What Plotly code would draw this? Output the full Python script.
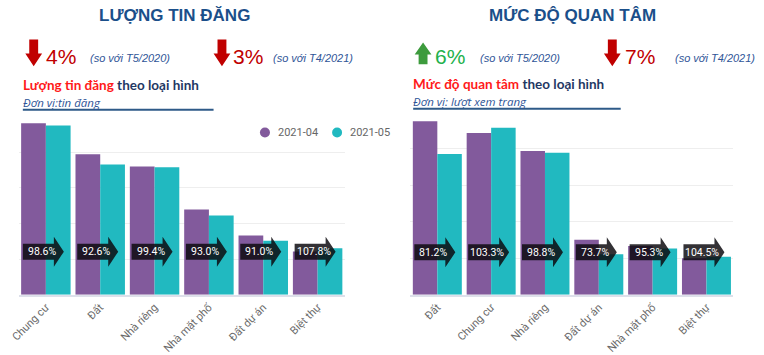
import plotly.graph_objects as go

# ---------------- data ----------------
series_names = ["2021-04", "2021-05"]

cats_listings = ["Chung cư", "Đất", "Nhà riêng", "Nhà mặt phố", "Đất dự án", "Biệt thự"]
listings_apr = [96300, 78900, 72000, 47800, 33300, 24200]
listings_may = [95000, 73100, 71600, 44500, 30300, 26100]
listings_pct = ["98.6%", "92.6%", "99.4%", "93.0%", "91.0%", "107.8%"]

cats_views = ["Đất", "Chung cư", "Nhà riêng", "Đất dự án", "Nhà mặt phố", "Biệt thự"]
views_apr = [4742000, 4420000, 3930000, 1499000, 1328000, 995000]
views_may = [3850000, 4566000, 3883000, 1105000, 1266000, 1040000]
views_pct = ["81.2%", "103.3%", "98.8%", "73.7%", "95.3%", "104.5%"]

# ---------------- style ----------------
W, H = 764, 355
PURPLE = "#825a9c"
TEAL = "#21b9c0"
RED = "#c00000"
GREEN = "#22b14c"
NAVY = "#1f3864"
TITLE_BLUE = "#1b4f8a"
NOTE_BLUE = "#2f5597"
ARROW_FILL = "rgba(12,10,14,0.84)"
COLORS = [PURPLE, TEAL]


def px(x):
    return x / W


def py(y):
    return 1 - y / H


fig = go.Figure()

panels = [
    ("x", "y", cats_listings, listings_apr, listings_may, listings_pct, 24170),
    ("x2", "y2", cats_views, views_apr, views_may, views_pct, 1157000),
]

for xa, ya, cats, apr, may, pct, label_y in panels:
    idx = list(range(len(cats)))
    for name, vals, col in zip(series_names, [apr, may], COLORS):
        fig.add_trace(go.Bar(x=idx, y=vals, name=name, marker_color=col,
                             marker_line_width=0, xaxis=xa, yaxis=ya, showlegend=False,
                             hovertext=cats, hoverinfo="text+y+name"))
    for i, t in zip(idx, pct):
        fig.add_shape(type="path", xref=xa, yref=ya,
                      xsizemode="pixel", ysizemode="pixel",
                      xanchor=i, yanchor=label_y,
                      path="M -23,-8 L 8,-8 L 8,-15 L 18,0 L 8,15 L 8,8 L -23,8 Z",
                      fillcolor=ARROW_FILL, line_width=0, layer="above")
        fig.add_annotation(x=i, y=label_y, xref=xa, yref=ya, text=t, showarrow=False,
                           xshift=-4, font=dict(family="Roboto", size=10.5, color="white"))

axis_common = dict(showgrid=False, zeroline=False, showline=True, linecolor="#dde0ea",
                   linewidth=2, tickangle=-45, ticks="",
                   tickfont=dict(family="Roboto", size=11, color="#6a6a6a"),
                   range=[-0.5, 5.5], fixedrange=True)
yaxis_common = dict(showticklabels=False, gridcolor="#eeeeee", gridwidth=1,
                    zeroline=False, showline=False, ticks="",
                    domain=[57 / H, 235 / H], fixedrange=True)

fig.update_layout(
    width=W, height=H, autosize=False,
    margin=dict(l=0, r=0, t=0, b=0),
    paper_bgcolor="white", plot_bgcolor="white",
    font=dict(family="Roboto", color="#555555"),
    barmode="group", bargap=0.09, bargroupgap=0,
    xaxis=dict(axis_common, domain=[px(9.8), px(339.8)], anchor="y",
               tickvals=list(range(6)), ticktext=cats_listings),
    yaxis=dict(yaxis_common, range=[0, 98900], dtick=20000, anchor="x"),
    xaxis2=dict(axis_common, domain=[px(406.2), px(733)], anchor="y2",
                tickvals=list(range(6)), ticktext=cats_views),
    yaxis2=dict(yaxis_common, range=[0, 4816000], dtick=1000000, anchor="x2"),
    showlegend=False,
)

# ---------------- legend (circle markers + labels) ----------------
for name, col, cx in zip(series_names, COLORS, [259, 332]):
    fig.add_shape(type="circle", xref="paper", yref="paper",
                  xsizemode="pixel", ysizemode="pixel", xanchor=px(cx), yanchor=py(134),
                  x0=-5, x1=5, y0=-5, y1=5, fillcolor=col, line_width=0)
    fig.add_annotation(x=px(cx + 11), y=py(134), xref="paper", yref="paper", text=name,
                       showarrow=False, xanchor="left", yanchor="middle",
                       font=dict(family="Roboto", size=11, color="#666666"))


# ---------------- header texts ----------------
def ann(x, y, text, size, color, family="Liberation Sans", xanchor="left"):
    fig.add_annotation(x=px(x), y=py(y), xref="paper", yref="paper", text=text,
                       showarrow=False, xanchor=xanchor, yanchor="middle", borderpad=0,
                       font=dict(family=family, size=size, color=color))


ann(167, 16, "<b>LƯỢNG TIN ĐĂNG</b>", 17, TITLE_BLUE, xanchor="center")
ann(570, 16, "<b>MỨC ĐỘ QUAN TÂM</b>", 17, TITLE_BLUE, xanchor="center")

ann(36, 57, "4%", 21, RED)
ann(81, 59, "<i>(so với T5/2020)</i>", 11, NOTE_BLUE)
ann(226, 57, "3%", 21, RED)
ann(266, 59, "<i>(so với T4/2021)</i>", 11, NOTE_BLUE)

ann(430, 57, "6%", 21, GREEN)
ann(476, 59, "<i>(so với T5/2020)</i>", 11, NOTE_BLUE)
ann(622, 57, "7%", 21, RED)
ann(673, 59, "<i>(so với T4/2021)</i>", 11, NOTE_BLUE)

ann(13, 86, "<b><span style='color:#ff1a1a'>Lượng tin đăng</span> theo loại hình</b>",
    13.5, NAVY, family="Lato")
ann(13, 103.5, "<i>Đơn vị:tin đăng</i>", 11.5, NOTE_BLUE, family="Open Sans")
ann(408, 85, "<b><span style='color:#ff1a1a'>Mức độ quan tâm</span> theo loại hình</b>",
    13.5, NAVY, family="Lato")
ann(408, 102.5, "<i>Đơn vị: lượt xem trang</i>", 11.5, NOTE_BLUE, family="Open Sans")

# underlines
fig.add_shape(type="line", xref="paper", yref="paper", x0=px(14), x1=px(207),
              y0=py(111), y1=py(111), line=dict(color="#2e5a88", width=2))
fig.add_shape(type="line", xref="paper", yref="paper", x0=px(409), x1=px(619),
              y0=py(110), y1=py(110), line=dict(color="#2e5a88", width=2))


# arrow icons
def down_arrow(x0, y0, color):
    pts = [(x0 + 4, y0), (x0 + 13, y0), (x0 + 13, y0 + 14), (x0 + 17, y0 + 14),
           (x0 + 8.5, y0 + 27), (x0, y0 + 14), (x0 + 4, y0 + 14)]
    path = "M " + " L ".join(f"{px(a):.5f},{py(b):.5f}" for a, b in pts) + " Z"
    fig.add_shape(type="path", xref="paper", yref="paper", path=path,
                  fillcolor=color, line_width=0)


def up_arrow(x0, y0, color):
    pts = [(x0 + 8.5, y0), (x0 + 17, y0 + 12), (x0 + 13, y0 + 12), (x0 + 13, y0 + 22),
           (x0 + 4, y0 + 22), (x0 + 4, y0 + 12), (x0, y0 + 12)]
    path = "M " + " L ".join(f"{px(a):.5f},{py(b):.5f}" for a, b in pts) + " Z"
    fig.add_shape(type="path", xref="paper", yref="paper", path=path,
                  fillcolor=color, line_width=0)


down_arrow(16.5, 40, RED)
down_arrow(207, 40, RED)
up_arrow(410.5, 43, "#3d9b3d")
down_arrow(602, 40, RED)

fig.write_html("out.html", config={"displayModeBar": False},
               post_script="document.body.style.margin='0';")
